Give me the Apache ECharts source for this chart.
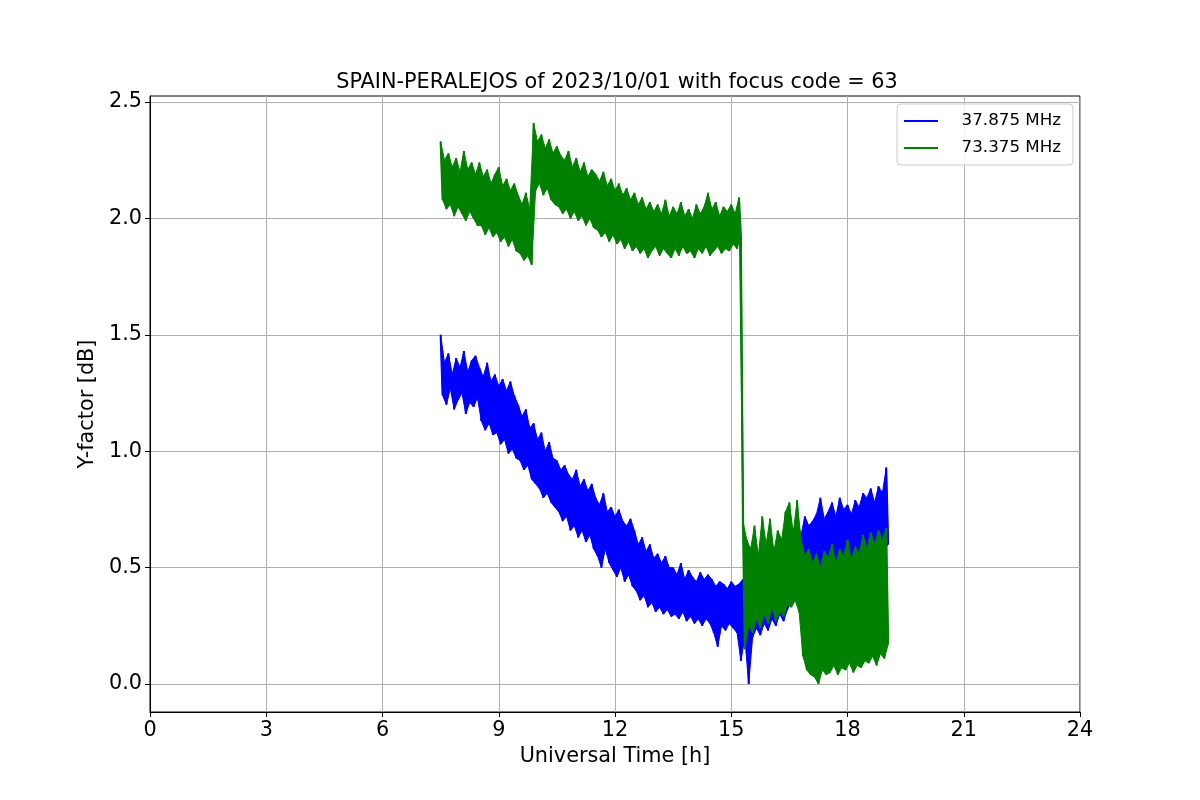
<!DOCTYPE html>
<html>
<head>
<meta charset="utf-8">
<script src="https://cdn.jsdelivr.net/npm/echarts@6/dist/echarts.min.js"></script>
<style>
html,body{margin:0;padding:0;background:#fff;}
#chart{width:1200px;height:800px;}
</style>
</head>
<body>
<div id="chart"></div>
<script>
// Sample times (hours UT); each sample has an upper and a lower reading (lower at +0.05 h)
const hours = [
  7.5,7.6,7.7,7.8,7.9,8.0,8.1,8.2,8.3,8.4,
  8.5,8.6,8.7,8.8,8.9,9.0,9.1,9.2,9.3,9.4,
  9.5,9.6,9.7,9.8,9.9,10.0,10.1,10.2,10.3,10.4,
  10.5,10.6,10.7,10.8,10.9,11.0,11.1,11.2,11.3,11.4,
  11.5,11.6,11.7,11.8,11.9,12.0,12.1,12.2,12.3,12.4,
  12.5,12.6,12.7,12.8,12.9,13.0,13.1,13.2,13.3,13.4,
  13.5,13.6,13.7,13.8,13.9,14.0,14.1,14.2,14.3,14.4,
  14.5,14.6,14.7,14.8,14.9,15.0,15.1,15.2,15.3,15.4,
  15.5,15.6,15.7,15.8,15.9,16.0,16.1,16.2,16.3,16.4,
  16.5,16.6,16.7,16.8,16.9,17.0,17.1,17.2,17.3,17.4,
  17.5,17.6,17.7,17.8,17.9,18.0,18.1,18.2,18.3,18.4,
  18.5,18.6,18.7,18.8,18.9,19.0
];
const halfStep = 0.05;

// 37.875 MHz (blue)
const blueHigh = [
  1.50,1.38,1.42,1.33,1.40,1.36,1.43,1.34,1.39,1.41,
  1.36,1.32,1.38,1.30,1.33,1.28,1.31,1.26,1.30,1.24,
  1.20,1.15,1.18,1.10,1.12,1.05,1.08,1.00,1.04,0.97,
  0.96,0.92,0.94,0.90,0.88,0.92,0.85,0.88,0.83,0.86,
  0.80,0.77,0.82,0.74,0.76,0.72,0.75,0.70,0.68,0.71,
  0.66,0.60,0.63,0.57,0.60,0.54,0.56,0.52,0.55,0.50,
  0.50,0.47,0.52,0.45,0.49,0.46,0.44,0.48,0.45,0.47,
  0.45,0.42,0.44,0.43,0.41,0.44,0.42,0.43,0.45,0.47,
  0.48,0.50,0.46,0.52,0.49,0.53,0.50,0.55,0.52,0.56,
  0.60,0.66,0.70,0.64,0.72,0.68,0.70,0.73,0.80,0.71,
  0.74,0.78,0.72,0.80,0.75,0.77,0.73,0.79,0.76,0.82,
  0.80,0.84,0.78,0.85,0.82,0.93
];
const blueLow = [
  1.24,1.20,1.27,1.18,1.22,1.25,1.16,1.21,1.19,1.23,
  1.13,1.09,1.12,1.07,1.08,1.03,1.05,0.99,1.01,0.97,
  0.96,0.92,0.94,0.88,0.86,0.84,0.80,0.82,0.78,0.76,
  0.74,0.70,0.72,0.66,0.68,0.63,0.66,0.61,0.64,0.58,
  0.55,0.50,0.58,0.52,0.49,0.46,0.50,0.44,0.47,0.42,
  0.40,0.36,0.38,0.33,0.35,0.31,0.33,0.30,0.32,0.29,
  0.30,0.28,0.31,0.27,0.29,0.26,0.28,0.25,0.28,0.26,
  0.22,0.16,0.25,0.23,0.26,0.24,0.22,0.10,0.20,0.00,
  0.20,0.24,0.21,0.26,0.23,0.28,0.25,0.30,0.27,0.32,
  0.36,0.40,0.44,0.46,0.48,0.45,0.50,0.47,0.49,0.46,
  0.50,0.47,0.52,0.49,0.53,0.50,0.54,0.51,0.55,0.52,
  0.56,0.53,0.57,0.55,0.58,0.60
];

// 73.375 MHz (green)
const greenHigh = [
  2.33,2.25,2.28,2.22,2.26,2.20,2.29,2.21,2.24,2.19,
  2.24,2.18,2.21,2.15,2.19,2.22,2.14,2.17,2.12,2.15,
  2.10,2.06,2.11,2.04,2.41,2.33,2.36,2.30,2.34,2.28,
  2.31,2.27,2.25,2.29,2.22,2.26,2.20,2.24,2.18,2.21,
  2.19,2.16,2.20,2.14,2.17,2.12,2.15,2.10,2.13,2.08,
  2.11,2.06,2.09,2.04,2.07,2.03,2.06,2.02,2.08,2.01,
  2.05,2.02,2.07,2.01,2.04,2.00,2.06,2.02,2.05,2.11,
  2.04,2.07,2.01,2.05,2.03,2.06,2.02,2.09,0.70,0.62,
  0.58,0.68,0.55,0.72,0.60,0.71,0.57,0.66,0.62,0.74,
  0.78,0.65,0.79,0.62,0.55,0.58,0.52,0.56,0.50,0.57,
  0.54,0.60,0.52,0.58,0.55,0.62,0.53,0.59,0.56,0.64,
  0.58,0.65,0.60,0.66,0.62,0.67
];
const greenLow = [
  2.08,2.04,2.06,2.01,2.05,2.02,1.99,2.03,2.00,1.97,
  1.97,1.93,1.96,1.92,1.94,1.90,1.92,1.88,1.91,1.86,
  1.85,1.82,1.84,1.80,2.12,2.15,2.10,2.13,2.08,2.06,
  2.05,2.02,2.04,2.00,2.03,1.99,2.01,1.97,2.00,1.96,
  1.95,1.92,1.94,1.90,1.93,1.89,1.91,1.87,1.90,1.86,
  1.88,1.85,1.87,1.83,1.86,1.88,1.84,1.87,1.85,1.83,
  1.87,1.84,1.88,1.85,1.86,1.83,1.87,1.85,1.88,1.84,
  1.86,1.88,1.85,1.87,1.86,1.89,1.87,1.93,0.15,0.25,
  0.22,0.28,0.24,0.30,0.26,0.33,0.27,0.31,0.29,0.34,
  0.33,0.36,0.31,0.12,0.06,0.04,0.03,0.00,0.06,0.04,
  0.05,0.08,0.04,0.07,0.06,0.09,0.05,0.08,0.07,0.10,
  0.09,0.12,0.08,0.13,0.11,0.17
];

const seriesNames = ['37.875 MHz', '73.375 MHz'];
const seriesColors = ['#0000ff', '#008000'];
const xTicks = [0, 3, 6, 9, 12, 15, 18, 21, 24];
const yTicks = [0, 0.5, 1.0, 1.5, 2.0, 2.5];
const titleText = 'SPAIN-PERALEJOS of 2023/10/01 with focus code = 63';

// the trace: alternating upper / lower readings
function zigzag(high, low) {
  const pts = [];
  for (let i = 0; i < hours.length; i++) {
    pts.push([hours[i], high[i]]);
    pts.push([+(hours[i] + halfStep).toFixed(2), low[i]]);
  }
  return pts;
}
// the dense body of the trace: one filled polygon between lower and upper readings,
// placed through the chart's own coordinate system (api.coord)
function bandSeries(high, low, color, z) {
  return {
    type: 'custom', silent: true, z: z,
    data: [[hours[0], low[0]]],
    renderItem: function (params, api) {
      const pts = [];
      for (let i = 0; i < hours.length; i++) pts.push(api.coord([hours[i], high[i]]));
      for (let i = hours.length - 1; i >= 0; i--) pts.push(api.coord([+(hours[i] + halfStep).toFixed(2), low[i]]));
      return {
        type: 'polygon',
        shape: {points: pts},
        style: {fill: color, stroke: color, lineWidth: 1}
      };
    }
  };
}

const FONT = 'DejaVu Sans';
const chart = echarts.init(document.getElementById('chart'), null, {renderer: 'canvas'});
chart.setOption({
  animation: false,
  backgroundColor: '#ffffff',
  textStyle: {fontFamily: FONT},
  title: {
    text: titleText,
    left: 612, top: 67,
    textAlign: 'center',
    textStyle: {fontFamily: FONT, fontSize: 20.8, fontWeight: 'normal', color: '#000'}
  },
  legend: {
    data: seriesNames,
    z: 20,
    orient: 'vertical',
    left: 897, top: 104,
    width: 175,
    padding: [8, 12, 8, 7],
    itemGap: 9,
    itemWidth: 34, itemHeight: 2,
    icon: 'rect',
    backgroundColor: 'rgba(255,255,255,0.8)',
    borderColor: '#cccccc', borderWidth: 1, borderRadius: 4,
    formatter: n => '  ' + n,
    textStyle: {fontFamily: FONT, fontSize: 16.7, color: '#000', padding: [0, 0, 0, 8], lineHeight: 18}
  },
  grid: {
    left: 150, right: 120, top: 96, bottom: 88,
    show: true, borderColor: '#000', borderWidth: 1, backgroundColor: 'transparent'
  },
  xAxis: {
    type: 'value', min: 0, max: 24, interval: 3,
    name: 'Universal Time [h]', nameLocation: 'middle', nameGap: 33,
    nameTextStyle: {fontFamily: FONT, fontSize: 20.8, color: '#000'},
    axisLine: {show: true, onZero: false, lineStyle: {color: '#000', width: 1}},
    axisTick: {show: true, length: 5, lineStyle: {color: '#000'}},
    axisLabel: {fontFamily: FONT, fontSize: 20.8, color: '#000', margin: 8,
      customValues: xTicks, formatter: v => String(v)},
    splitLine: {show: true, lineStyle: {color: '#b0b0b0', width: 1}}
  },
  yAxis: {
    type: 'value', min: -0.12, max: 2.526, splitNumber: 5,
    name: 'Y-factor [dB]', nameLocation: 'middle', nameGap: 52,
    nameTextStyle: {fontFamily: FONT, fontSize: 20.8, color: '#000'},
    axisLine: {show: true, onZero: false, lineStyle: {color: '#000', width: 1}},
    axisTick: {show: true, length: 5, lineStyle: {color: '#000'}, customValues: yTicks},
    axisLabel: {fontFamily: FONT, fontSize: 20.8, color: '#000', margin: 8,
      customValues: yTicks, formatter: v => v.toFixed(1)},
    splitLine: {show: true, lineStyle: {color: '#b0b0b0', width: 1}}
  },
  series: [
    bandSeries(blueHigh, blueLow, seriesColors[0], 2),
    {
      name: seriesNames[0], type: 'line', data: zigzag(blueHigh, blueLow),
      symbol: 'none', sampling: null, color: seriesColors[0],
      lineStyle: {color: seriesColors[0], width: 2}, z: 3
    },
    bandSeries(greenHigh, greenLow, seriesColors[1], 4),
    {
      name: seriesNames[1], type: 'line', data: zigzag(greenHigh, greenLow),
      symbol: 'none', sampling: null, color: seriesColors[1],
      lineStyle: {color: seriesColors[1], width: 2}, z: 5
    }
  ]
});
</script>
</body>
</html>
